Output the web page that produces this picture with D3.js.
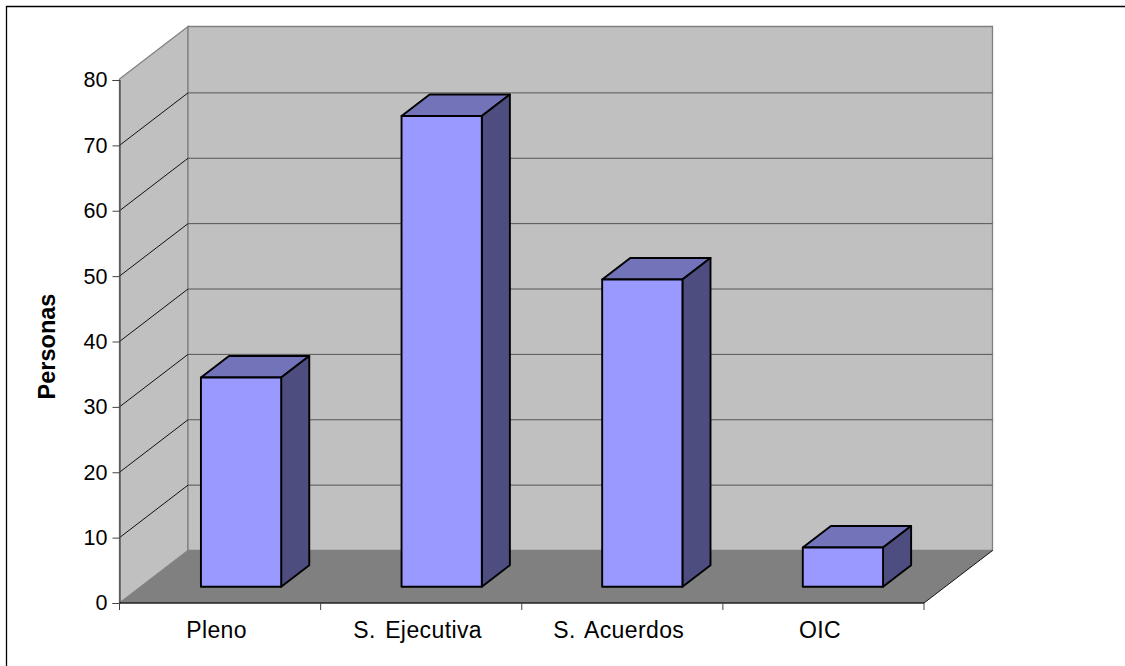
<!DOCTYPE html>
<html>
<head>
<meta charset="utf-8">
<script src="https://cdn.jsdelivr.net/npm/d3@7"></script>
<style>
html, body { margin: 0; padding: 0; background: #fff; }
svg { display: block; }
text { font-family: "Liberation Sans", Arial, sans-serif; fill: #000; }
</style>
</head>
<body>
<div id="chart"></div>
<script>
var categories = ["Pleno", "S. Ejecutiva", "S. Acuerdos", "OIC"];
var personas = [32, 72, 47, 6];
var yTicks = [0, 10, 20, 30, 40, 50, 60, 70, 80];

var width = 1125, height = 666;

// front plane of the box and how far the back wall is pushed
var plotLeft = 119.5, plotRight = 924, plotBottom = 603, plotTop = 80;
var depthX = 68.5, depthY = -52.5;

// bar sits 0.31 into the depth and takes up 0.41 of it
var barOffset = 0.31, barDepth = 0.41;

var svg = d3.select("#chart")
    .append("svg")
    .attr("width", width)
    .attr("height", height);

// outer frame, only top and left are in the picture
svg.append("line")
    .attr("x1", 6).attr("y1", 6.5).attr("x2", width).attr("y2", 6.5)
    .attr("stroke", "#000").attr("stroke-width", 1.3);
svg.append("line")
    .attr("x1", 6.5).attr("y1", 6).attr("x2", 6.5).attr("y2", height)
    .attr("stroke", "#000").attr("stroke-width", 1.3);

var x = d3.scaleBand()
    .domain(categories)
    .range([plotLeft, plotRight - 2])
    .paddingInner(0.6)
    .paddingOuter(0.3);

var y = d3.scaleLinear()
    .domain([0, 80])
    .range([plotBottom, plotTop]);

function pts(list) {
    return list.map(function(p) { return p.join(","); }).join(" ");
}

var wallGrey = "#c0c0c0", edgeGrey = "#808080", floorGrey = "#808080";

// side wall
svg.append("polygon")
    .attr("points", pts([[plotLeft, plotBottom], [plotLeft, plotTop - 1], [plotLeft + depthX, plotTop + depthY - 1], [plotLeft + depthX, plotBottom + depthY]]))
    .attr("fill", wallGrey)
    .attr("stroke", edgeGrey)
    .attr("stroke-width", 1.3);

// back wall
svg.append("polygon")
    .attr("points", pts([[plotLeft + depthX, plotTop + depthY - 1], [plotRight + depthX, plotTop + depthY - 1], [plotRight + depthX, plotBottom + depthY], [plotLeft + depthX, plotBottom + depthY]]))
    .attr("fill", wallGrey)
    .attr("stroke", edgeGrey)
    .attr("stroke-width", 1.3);

// floor
svg.append("polygon")
    .attr("points", pts([[plotLeft, plotBottom], [plotRight, plotBottom], [plotRight + depthX, plotBottom + depthY], [plotLeft + depthX, plotBottom + depthY]]))
    .attr("fill", floorGrey);

// gridlines, skip the 0 and the 80 which are the edges
var grid = svg.append("g");
yTicks.slice(1, -1).forEach(function(t) {
    grid.append("line")
        .attr("x1", plotLeft).attr("y1", y(t))
        .attr("x2", plotLeft + depthX).attr("y2", y(t) + depthY)
        .attr("stroke", "#111").attr("stroke-width", 1);
    grid.append("line")
        .attr("x1", plotLeft + depthX).attr("y1", y(t) + depthY)
        .attr("x2", plotRight + depthX).attr("y2", y(t) + depthY)
        .attr("stroke", "#555").attr("stroke-width", 1);
});

// floor right edge
svg.append("line")
    .attr("x1", plotRight).attr("y1", plotBottom)
    .attr("x2", plotRight + depthX).attr("y2", plotBottom + depthY)
    .attr("stroke", "#111").attr("stroke-width", 1);

// axes
var yAxis = d3.axisLeft(y).tickValues(yTicks).tickSize(7).tickPadding(5);
var yG = svg.append("g")
    .attr("transform", "translate(" + plotLeft + ",0)")
    .call(yAxis);
yG.select(".domain").attr("stroke", "#444").attr("stroke-width", 1.2);
yG.selectAll(".tick line").attr("stroke", "#444");
yG.selectAll("text").style("font-size", "21.5px").style("font-family", "'Liberation Sans'");

var xBorders = d3.scaleLinear().domain([0, categories.length]).range([plotLeft, plotRight]);
var xTicks = svg.append("g");
xTicks.append("line")
    .attr("x1", plotLeft).attr("y1", plotBottom)
    .attr("x2", plotRight).attr("y2", plotBottom)
    .attr("stroke", "#222").attr("stroke-width", 1.4);
d3.range(categories.length + 1).forEach(function(i) {
    xTicks.append("line")
        .attr("x1", xBorders(i)).attr("y1", plotBottom)
        .attr("x2", xBorders(i)).attr("y2", plotBottom + 7)
        .attr("stroke", "#444");
});

categories.forEach(function(c, i) {
    svg.append("text")
        .attr("x", (xBorders(i) + xBorders(i + 1)) / 2 - 3.5)
        .attr("y", 638)
        .attr("text-anchor", "middle")
        .style("font-size", "23px")
        .style("letter-spacing", "0.4px")
        .style("word-spacing", "2.5px")
        .text(c);
});

svg.append("text")
    .attr("transform", "translate(55,346.5) rotate(-90)")
    .attr("text-anchor", "middle")
    .style("font-size", "23.5px")
    .style("font-weight", "bold")
    .text("Personas");

// bars: front, top and side faces
var bars = svg.append("g")
    .selectAll("g")
    .data(personas)
    .enter()
    .append("g")
    .attr("transform", "translate(" + (barOffset * depthX) + "," + (barOffset * depthY) + ")")
    .attr("stroke", "#000")
    .attr("stroke-width", 1.9)
    .attr("stroke-linejoin", "round");

var dx = barDepth * depthX, dy = barDepth * depthY;

bars.append("polygon")
    .attr("fill", "#7373b9")
    .attr("points", function(d, i) {
        var x0 = x(categories[i]), x1 = x0 + x.bandwidth(), t = y(d);
        return pts([[x0, t], [x1, t], [x1 + dx, t + dy], [x0 + dx, t + dy]]);
    });

bars.append("polygon")
    .attr("fill", "#4d4d80")
    .attr("points", function(d, i) {
        var x1 = x(categories[i]) + x.bandwidth(), t = y(d);
        return pts([[x1, t], [x1 + dx, t + dy], [x1 + dx, plotBottom + dy], [x1, plotBottom]]);
    });

bars.append("rect")
    .attr("fill", "#9999ff")
    .attr("x", function(d, i) { return x(categories[i]); })
    .attr("y", function(d) { return y(d); })
    .attr("width", x.bandwidth())
    .attr("height", function(d) { return plotBottom - y(d); });
</script>
</body>
</html>
